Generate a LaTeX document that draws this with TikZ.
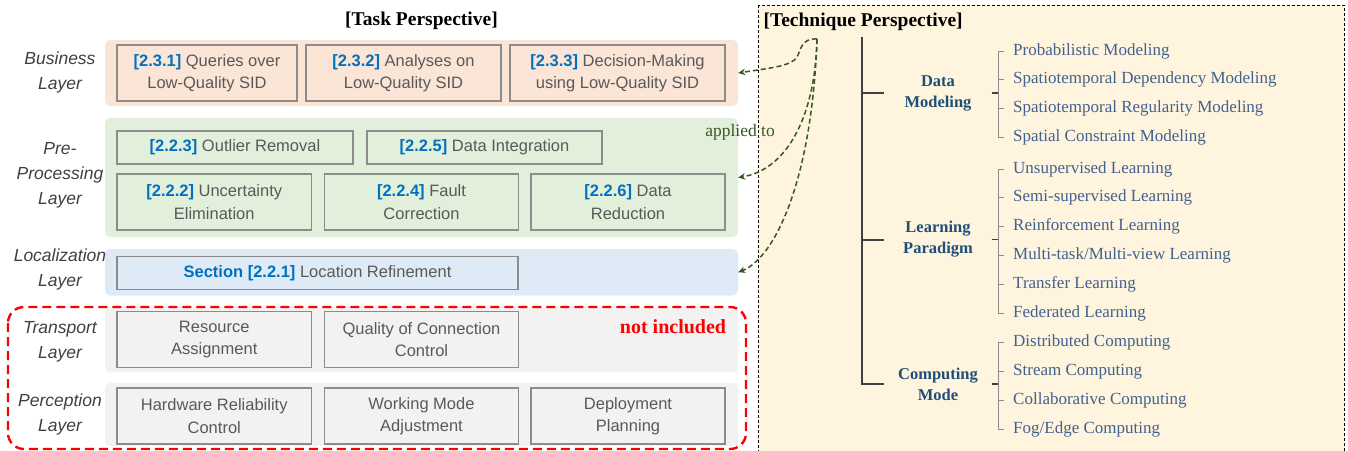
\documentclass[tikz,border=0pt]{standalone}
\usepackage{fontspec}
\setmainfont{Liberation Serif}
\setsansfont{Liberation Sans}
\usepackage{tikz}
\usetikzlibrary{positioning}
\usetikzlibrary{arrows.meta}

\definecolor{bizbg}{HTML}{FBE5D6}
\definecolor{prebg}{HTML}{E2EFDA}
\definecolor{locbg}{HTML}{DEEBF7}
\definecolor{otherbg}{HTML}{F2F2F2}
\definecolor{techbg}{HTML}{FFF5DE}
\definecolor{boxline}{HTML}{8C8C8C}
\definecolor{boxtext}{HTML}{595959}
\definecolor{layertext}{HTML}{404040}
\definecolor{secblue}{HTML}{0070C0}
\definecolor{catblue}{HTML}{1F4E79}
\definecolor{itemblue}{HTML}{41618F}
\definecolor{arrowgreen}{HTML}{385723}
\definecolor{treegray}{HTML}{404040}

\tikzset{
  layerbg/.style={draw=none, rounded corners=5pt, minimum width=633pt, inner sep=0pt},
  taskbox/.style={draw=boxline, line width=1.2pt, text=boxtext, align=center,
    font=\sffamily\fontsize{16.5}{22.5}\selectfont, minimum height=56pt, inner sep=0pt},
  layername/.style={font=\sffamily\itshape\fontsize{17.5}{25}\selectfont, text=layertext, align=center},
  persp/.style={font=\bfseries\fontsize{19.5}{22}\selectfont},
  catnode/.style={font=\bfseries\fontsize{16.5}{21}\selectfont, text=catblue, align=center,
    minimum width=107pt, inner sep=0pt},
  itemnode/.style={anchor=west, font=\fontsize{17}{20}\selectfont, text=itemblue, inner ysep=0pt, inner xsep=9pt},
  trunk/.style={draw=treegray, line width=2pt},
  stub/.style={draw=treegray, line width=1.5pt},
  brack/.style={draw=boxline, line width=1pt},
  applyarrow/.style={draw=arrowgreen, line width=1.5pt, dash pattern=on 5pt off 3pt,
    -{Stealth[length=7pt,width=6.5pt]}},
}
\newcommand{\secno}[1]{{\bfseries\color{secblue}#1}}

\begin{document}
\begin{tikzpicture}[x=1pt,y=-1pt]
\useasboundingbox (0,0) rectangle (1348,450);

% task perspective
\node[persp] (tasktitle) at (421.5,21) {[Task Perspective]};

\node[layerbg, fill=bizbg, minimum height=66pt] (bizlayer) at (421.5,73) {};
\node[layerbg, fill=prebg, minimum height=119pt] (prelayer) at (421.5,177.5) {};
\node[layerbg, fill=locbg, minimum height=46.5pt] (loclayer) at (421.5,272.25) {};
\node[layerbg, fill=otherbg, minimum height=65pt] (translayer) at (421.5,339.5) {};
\node[layerbg, fill=otherbg, minimum height=63pt] (perclayer) at (421.5,414.5) {};

\node[layername] (lbiz) at (60,72.5) {Business\\Layer};
\node[layername] (lpre) at (60,175) {Pre-\\Processing\\Layer};
\node[layername] (lloc) at (60,269.5) {Localization\\Layer};
\node[layername] (ltrans) at (60,341.5) {Transport\\Layer};
\node[layername] (lperc) at (60,414) {Perception\\Layer};

\node[taskbox, minimum width=180pt] (q231) at (207,73) {\secno{[2.3.1]} Queries over\\Low-Quality SID};
\node[taskbox, minimum width=195pt] (q232) at (403.5,73) {\secno{[2.3.2]} Analyses on\\Low-Quality SID};
\node[taskbox, minimum width=215pt] (q233) at (617.5,73) {\secno{[2.3.3]} Decision-Making\\using Low-Quality SID};

\node[taskbox, minimum width=236pt, minimum height=33pt] (p223) at (235,147.5) {\secno{[2.2.3]} Outlier Removal};
\node[taskbox, minimum width=235pt, minimum height=33pt] (p225) at (484.5,147.5) {\secno{[2.2.5]} Data Integration};
\node[taskbox, minimum width=194.5pt] (p222) at (214.25,202) {\secno{[2.2.2]} Uncertainty\\Elimination};
\node[taskbox, minimum width=194pt] (p224) at (421.5,202) {\secno{[2.2.4]} Fault\\Correction};
\node[taskbox, minimum width=194pt] (p226) at (628,202) {\secno{[2.2.6]} Data\\Reduction};

\node[taskbox, minimum width=401pt, minimum height=33pt] (l221) at (317.5,273) {\secno{Section [2.2.1]} Location Refinement};

\node[taskbox, minimum width=194.5pt] (t1) at (214.25,339.7) {Resource\\Assignment};
\node[taskbox, minimum width=194pt] (t2) at (421.5,339.7) {Quality of Connection\\Control};
\node[taskbox, minimum width=194.5pt] (c1) at (214.25,416) {Hardware Reliability\\Control};
\node[taskbox, minimum width=194pt] (c2) at (421.5,416) {Working Mode\\Adjustment};
\node[taskbox, minimum width=194pt] (c3) at (628,416) {Deployment\\Planning};

\draw[draw=red, line width=2.4pt, dash pattern=on 9pt off 5pt, rounded corners=16pt] (8,307) rectangle (746,449);
\node[font=\bfseries\fontsize{20}{22}\selectfont, text=red] (notinc) at (673,327) {not included};

% technique perspective
\draw[dash pattern=on 3pt off 2pt, fill=techbg] (758,5) rectangle (1344,470);
\node[persp, anchor=west] (techtitle) at (760,22) {[Technique Perspective]};

\node[catnode] (datamod) at (938,93) {Data\\Modeling};
\node[catnode] (learnpar) at (938,239.5) {Learning\\Paradigm};
\node[catnode] (compmode) at (938,384) {Computing\\Mode};

\coordinate (trunktop) at (862,37);
\draw[trunk] (trunktop) |- (compmode.west);
\draw[trunk] (trunktop |- datamod.west) -- (datamod.west);
\draw[trunk] (trunktop |- learnpar.west) -- (learnpar.west);

\foreach \txt [count=\i] in {Probabilistic Modeling, Spatiotemporal Dependency Modeling,
    Spatiotemporal Regularity Modeling, Spatial Constraint Modeling}{
  \node[itemnode] (dm\i) at (1004,{51+28.8*(\i-1)}) {\txt};
  \draw[brack] ([xshift=-6pt]dm\i.west) -- (dm\i.west);
}
\foreach \txt [count=\i] in {Unsupervised Learning, Semi-supervised Learning, Reinforcement Learning,
    Multi-task/Multi-view Learning, Transfer Learning, Federated Learning}{
  \node[itemnode] (lp\i) at (1004,{169+28.8*(\i-1)}) {\txt};
  \draw[brack] ([xshift=-6pt]lp\i.west) -- (lp\i.west);
}
\foreach \txt [count=\i] in {Distributed Computing, Stream Computing, Collaborative Computing,
    Fog/Edge Computing}{
  \node[itemnode] (cm\i) at (1004,{342+29.3*(\i-1)}) {\txt};
  \draw[brack] ([xshift=-6pt]cm\i.west) -- (cm\i.west);
}
\draw[brack] ([xshift=-6pt]dm1.west) -- ([xshift=-6pt]dm4.west);
\draw[brack] ([xshift=-6pt]lp1.west) -- ([xshift=-6pt]lp6.west);
\draw[brack] ([xshift=-6pt]cm1.west) -- ([xshift=-6pt]cm4.west);
\draw[stub] (datamod.east) -- ([xshift=-6pt]datamod.east -| dm1.west);
\draw[stub] (learnpar.east) -- ([xshift=-6pt]learnpar.east -| lp1.west);
\draw[stub] (compmode.east) -- ([xshift=-6pt]compmode.east -| cm1.west);

% applied to
\coordinate (src) at (817,39);
\node[font=\fontsize{17.5}{20}\selectfont, text=arrowgreen] (applied) at (740,132) {applied to};
\draw[applyarrow] (src) .. controls (801,38) and (801,50) .. (797,57) .. controls (792,66) and (770,68) .. (bizlayer.east);
\draw[applyarrow] (src) .. controls (815,120) and (785,170) .. (prelayer.east);
\draw[applyarrow] (src) .. controls (812,180) and (775,258) .. (loclayer.east);
\end{tikzpicture}
\end{document}
